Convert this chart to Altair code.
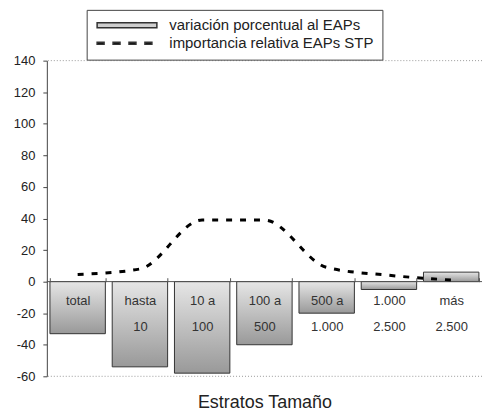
import altair as alt
import pandas as pd

categorias = ["total", "hasta|10", "10 a|100", "100 a|500", "500 a|1.000", "1.000|2.500", "más|2.500"]
variacion = [-33, -54, -58, -40, -20, -5, 6]
importancia = [4.5, 8, 39, 39, 9, 4, 1]
series = ["variación porcentual al EAPs", "importancia relativa EAPs STP"]
y_ticks = [-60, -40, -20, 0, 20, 40, 60, 80, 100, 120, 140]
bordes = [140, -60]
cero = [0]

FONT = "Liberation Sans"

df = pd.DataFrame({"cat": categorias, "var": variacion, "imp": importancia})
df_leg = pd.DataFrame({"serie": series, "cat": [categorias[0]] * 2, "v": [1000, 1000]})
df_b = pd.DataFrame({"b": bordes})
df_0 = pd.DataFrame({"z": cero})

yscale = alt.Scale(domain=[-60, 140], nice=False)
xscale = alt.Scale(domain=categorias, paddingInner=0.11, paddingOuter=0.05)

x_axis = alt.Axis(
    title="Estratos Tamaño", offset=-99, domain=False, ticks=True, tickBand="extent",
    tickSize=4, tickColor="#555", labelExpr="split(datum.label, '|')", labelAngle=0,
    labelBaseline="top", labelPadding=13, labelLineHeight=26, labelFontSize=13,
    labelColor="#333", labelFont=FONT, titleFont=FONT, titleFontSize=18,
    titleFontWeight="normal", titleColor="#222", titleY=116, titleBaseline="top",
    zindex=1, grid=False,
)
y_axis = alt.Axis(
    values=y_ticks, title=None, grid=False, domainColor="#444", tickColor="#444",
    tickSize=4, labelPadding=8, labelFontSize=13, labelFont=FONT, labelColor="#222",
    labelExpr="'' + datum.value",
)

def X():
    return alt.X("cat:N", sort=None, scale=xscale, axis=x_axis)

def Y(f):
    return alt.Y(f, scale=yscale, axis=y_axis)

grad = alt.LinearGradient(
    gradient="linear",
    stops=[alt.GradientStop(color="#e6e6e6", offset=0), alt.GradientStop(color="#999999", offset=1)],
    x1=0, x2=0, y1=0, y2=1,
)

rules = alt.Chart(df_b).mark_rule(color="#999", strokeDash=[1, 2], strokeWidth=1).encode(y=Y("b:Q"))
bars = alt.Chart(df).mark_bar(fill=grad, stroke="#333", strokeWidth=1).encode(x=X(), y=Y("var:Q"))
zero = alt.Chart(df_0).mark_rule(color="#555", strokeWidth=1).encode(y=Y("z:Q"))
line = alt.Chart(df).mark_line(
    interpolate="monotone", color="black", strokeWidth=3, strokeDash=[6, 8]
).encode(x=X(), y=Y("imp:Q"))

rect_path = "M-1,-0.5H11V0.5H-1Z"
dash_path = ("M-1,-0.2H0.4V0.2H-1Z M2.2,-0.2H3.6V0.2H2.2Z "
             "M5.4,-0.2H6.8V0.2H5.4Z M8.6,-0.2H10V0.2H8.6Z")
leg_def = alt.Legend(
    title=None, orient="none", legendX=40, legendY=-51, labelFont=FONT, labelFontSize=15,
    labelColor="#222", labelOffset=60, rowPadding=2, padding=8, strokeColor="#444",
    fillColor="white", labelLimit=400,
)
leg = alt.Chart(df_leg).mark_point(
    filled=True, size=100, clip=True, stroke="#333", strokeWidth=1, opacity=1
).encode(
    x=X(), y=Y("v:Q"),
    shape=alt.Shape("serie:N", scale=alt.Scale(domain=series, range=[rect_path, dash_path]), legend=leg_def),
    fill=alt.Fill("serie:N", scale=alt.Scale(domain=series, range=["#cfcfcf", "black"]), legend=leg_def),
)

chart = alt.layer(rules, bars, zero, line, leg).properties(
    width=437, height=317,
    padding={"left": 5, "top": 0, "right": 0, "bottom": 2},
).configure_view(stroke=None)

chart.save("out.html", embed_options={"renderer": "svg", "actions": False})
